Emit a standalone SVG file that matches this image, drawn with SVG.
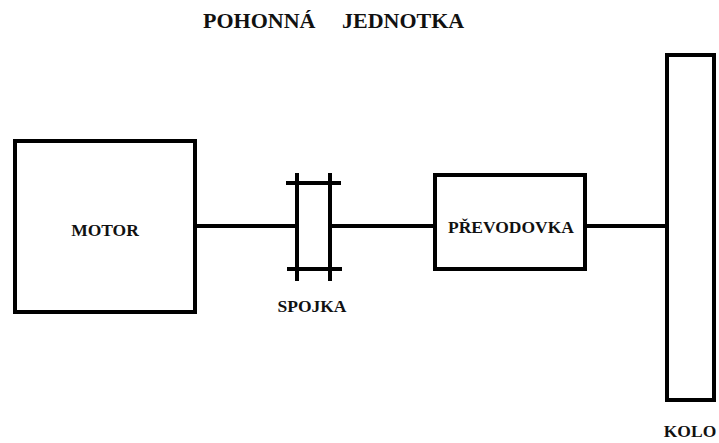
<svg xmlns="http://www.w3.org/2000/svg" width="719" height="443" viewBox="0 0 719 443">
  <style>
    .box { fill: #ffffff; stroke: #000000; stroke-width: 4; }
    .shaft { stroke: #000000; stroke-width: 4; fill: none; }
    .lbl { font-family: "Liberation Serif", "Times New Roman", serif; font-weight: bold; fill: #111111; }
  </style>
  <rect width="719" height="443" fill="#ffffff"/>

  <text class="lbl" font-size="22" y="28"><tspan x="203">POHONNÁ</tspan><tspan x="342">JEDNOTKA</tspan></text>

  <g id="connectors">
    <line class="shaft" x1="195" y1="226" x2="297" y2="226"/>
    <line class="shaft" x1="330" y1="226" x2="435" y2="226"/>
    <line class="shaft" x1="585" y1="226" x2="667" y2="226"/>
  </g>

  <g id="motor">
    <rect class="box" x="15" y="141" width="180" height="171"/>
    <text class="lbl" font-size="17.5" x="105" y="236" text-anchor="middle">MOTOR</text>
  </g>

  <g id="spojka">
    <line class="shaft" x1="297" y1="173" x2="297" y2="281"/>
    <line class="shaft" x1="330" y1="173" x2="330" y2="281"/>
    <line class="shaft" x1="286" y1="183" x2="341" y2="183"/>
    <line class="shaft" x1="287" y1="269" x2="342" y2="269"/>
    <text class="lbl" font-size="17.5" x="312" y="312" text-anchor="middle">SPOJKA</text>
  </g>

  <g id="prevodovka">
    <rect class="box" x="435" y="175" width="150" height="94"/>
    <text class="lbl" font-size="17.5" x="511" y="233" text-anchor="middle">PŘEVODOVKA</text>
  </g>

  <g id="kolo">
    <rect class="box" x="667" y="55" width="47" height="345"/>
    <text class="lbl" font-size="17.5" x="690" y="437" text-anchor="middle">KOLO</text>
  </g>
</svg>
